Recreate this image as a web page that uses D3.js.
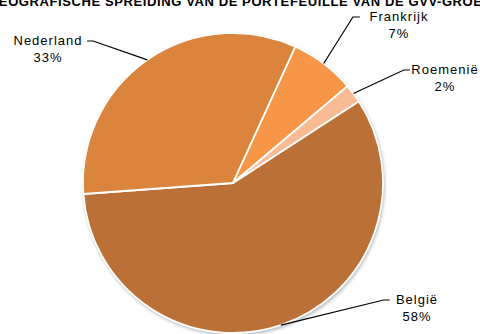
<!DOCTYPE html>
<html><head><meta charset="utf-8">
<script src="https://cdn.jsdelivr.net/npm/d3@7"></script>
<style>
html,body{margin:0;padding:0;background:#fff;}
svg{display:block;}
text{font-family:"Liberation Sans","DejaVu Sans",sans-serif;}
</style></head>
<body>
<script>
const title = "GEOGRAFISCHE SPREIDING VAN DE PORTEFEUILLE VAN DE GVV-GROEP";
const categories = ["België", "Nederland", "Frankrijk", "Roemenië"];
const values = [58, 33, 7, 2];
const percentLabels = ["58%", "33%", "7%", "2%"];
const colors = ["#BA7036", "#DB843E", "#F79646", "#F9BB93"];

// layout (label text anchor positions relative to chart center)
const W = 480, H = 334, cx = 233, cy = 183, R = 150;
const startDeg = 57;
const labelPos = [
  {x: 184, y: 121, elbow: -6},   // België
  {x: -185, y: -138, elbow: 6},  // Nederland
  {x: 166, y: -162, elbow: -7},  // Frankrijk
  {x: 212, y: -109, elbow: -6}   // Roemenië
];

const svg = d3.select("body").append("svg").attr("width", W).attr("height", H);
const defs = svg.append("defs");
const f = defs.append("filter").attr("id","sh").attr("x","-20%").attr("y","-20%").attr("width","140%").attr("height","140%");
f.append("feGaussianBlur").attr("stdDeviation", 1.8);

svg.append("text").attr("x", W/2).attr("y", 6).attr("text-anchor","middle")
  .attr("font-size", 13).attr("font-weight","bold").attr("letter-spacing", 0.6)
  .attr("fill","#000").text(title);

const g = svg.append("g").attr("transform", `translate(${cx},${cy})`);

g.append("circle").attr("cx", 1).attr("cy", 2).attr("r", R + 1)
  .attr("fill", "#9a9a9a").attr("opacity", 0.6).attr("filter","url(#sh)");

const data = categories.map((c,i)=>({c, v: values[i], p: percentLabels[i], col: colors[i], lp: labelPos[i]}));
const pie = d3.pie().value(d=>d.v).sort(null)
  .startAngle(startDeg*Math.PI/180).endAngle(startDeg*Math.PI/180 + 2*Math.PI);
const arc = d3.arc().innerRadius(0).outerRadius(R);
const arcs = pie(data);

g.selectAll("path.slice").data(arcs).join("path").attr("class","slice")
  .attr("d", arc).attr("fill", d=>d.data.col)
  .attr("stroke", "#fff").attr("stroke-width", 1.8).attr("stroke-linejoin","round");

arcs.forEach(a=>{
  const mid = (a.startAngle + a.endAngle)/2;
  const ex = R*Math.sin(mid), ey = -R*Math.cos(mid);
  const lp = a.data.lp;
  const t = g.append("text").attr("text-anchor","middle").attr("font-size", 13)
    .attr("letter-spacing", 1).attr("fill","#000");
  t.append("tspan").attr("x", lp.x).attr("y", lp.y).text(a.data.c);
  t.append("tspan").attr("x", lp.x).attr("y", lp.y + 17).text(a.data.p);
  const half = a.data.c.length*3.9 + 4;
  const sx = lp.elbow<0 ? lp.x - half : lp.x + half;
  const sy = lp.y - 4;
  g.append("polyline")
    .attr("points", [[sx, sy],[sx + lp.elbow, sy],[ex, ey]].map(p=>p.join(",")).join(" "))
    .attr("fill","none").attr("stroke","#000").attr("stroke-width",1.2);
});
</script>
</body></html>
